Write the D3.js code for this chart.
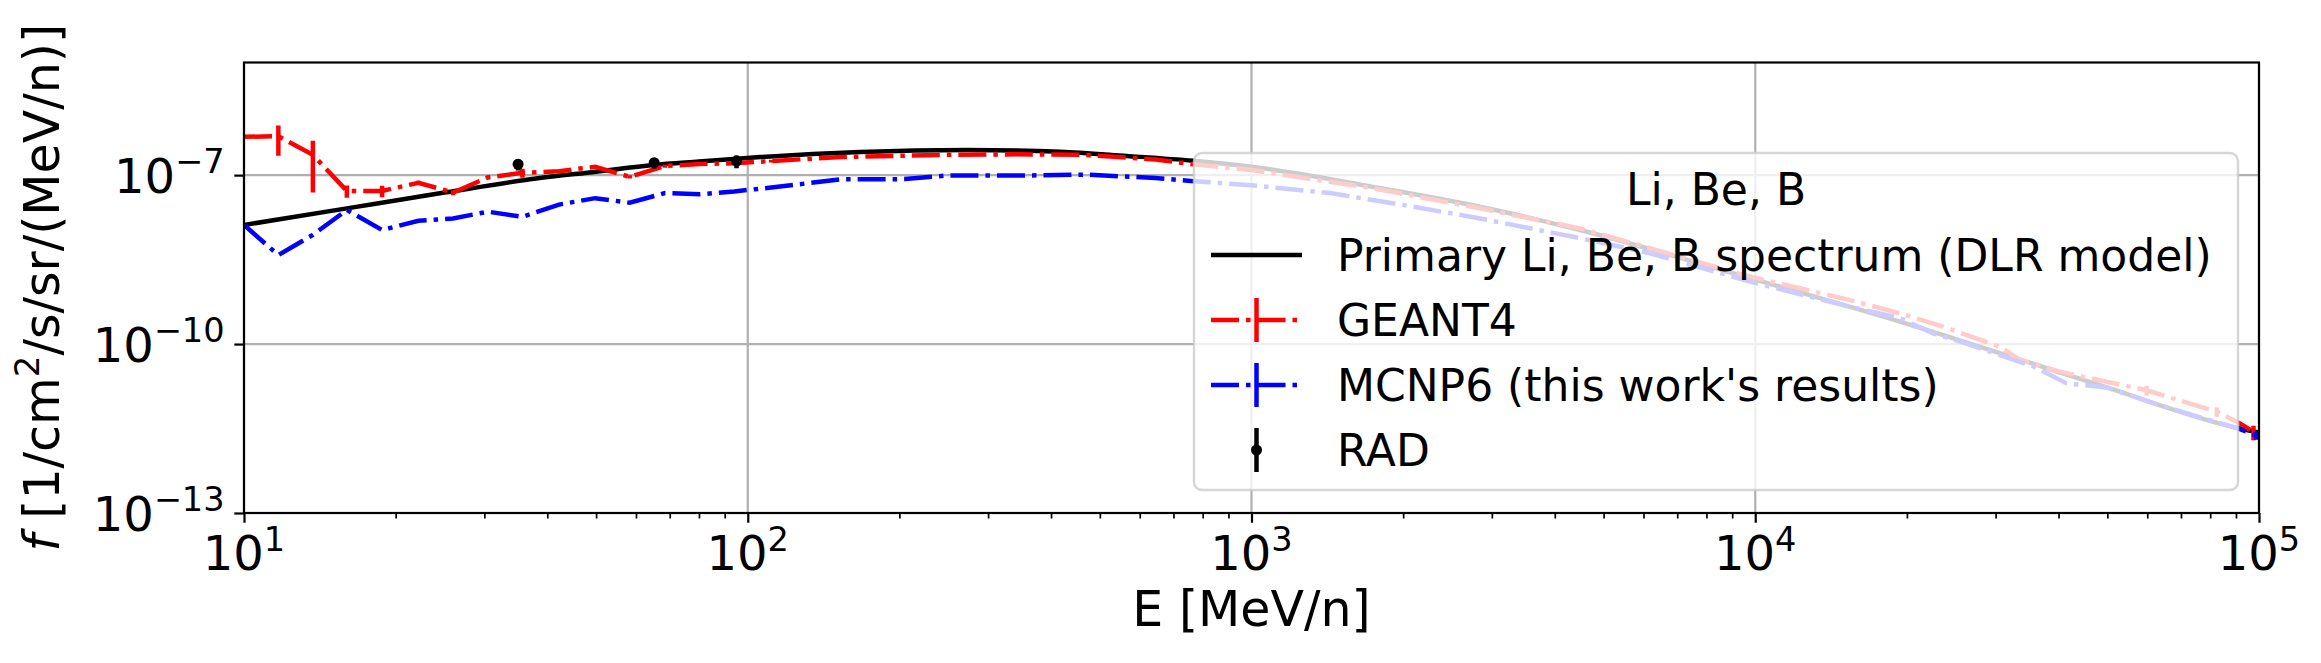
<!DOCTYPE html>
<html>
<head>
<meta charset="utf-8">
<script src="https://cdn.jsdelivr.net/npm/d3@7"></script>
<style>
  body { margin: 0; background: #fff; }
  svg { display: block; }
  text { font-family: "DejaVu Sans", sans-serif; fill: #000; }
</style>
</head>
<body>
<svg id="chart"></svg>
<script>
// primary spectrum (DLR model)
const dlrEnergy = [10, 16, 25, 38, 50, 65, 80, 106, 167, 272, 417, 565, 766, 1000, 1746, 2842, 4487, 9762, 19370, 35300, 48300, 91650, 100000];
const dlrFlux = [1.3e-8, 2.57e-8, 4.9e-8, 8.7e-8, 1.15e-7, 1.51e-7, 1.74e-7, 2.09e-7, 2.57e-7, 2.79e-7, 2.6e-7, 2.19e-7, 1.8e-7, 1.41e-7, 6.17e-8, 2.75e-8, 1.06e-8, 1.48e-9, 2.51e-10, 4.57e-11, 1.86e-11, 3.16e-12, 2.69e-12];

// GEANT4
const g4Energy = [10, 11.7, 13.7, 16.0, 18.8, 22.2, 26.0, 30.5, 35.7, 42.2, 49.8, 58.3, 68.5, 80.3, 94.0, 111.3, 153, 247, 340, 469, 645, 757, 1000, 1746, 2842, 4487, 9762, 15420, 19370, 23600, 30630, 33540, 40270, 49850, 59850, 70800, 82450, 91650, 97500];
const g4Flux = [4.79e-7, 4.9e-7, 2.29e-7, 5.25e-8, 5.25e-8, 7.33e-8, 4.9e-8, 9.12e-8, 1.1e-7, 1.17e-7, 1.41e-7, 9.33e-8, 1.45e-7, 1.58e-7, 1.62e-7, 1.78e-7, 2.09e-7, 2.29e-7, 2.34e-7, 2.29e-7, 1.9e-7, 1.58e-7, 1.23e-7, 5.82e-8, 2.57e-8, 1.135e-8, 1.58e-9, 6.03e-10, 3.5e-10, 2.04e-10, 8.9e-11, 5.25e-11, 3.24e-11, 2.14e-11, 1.51e-11, 9.5e-12, 6.3e-12, 3.9e-12, 2.75e-12];
const g4Err = [0, 2.7e-7, 1.8e-7, 1.3e-8, 1.2e-8, 6e-9, 5e-9, 7e-9, 2e-8, 8e-9, 1e-8, 6e-9, 1e-8, 1e-8, 1e-8, 1e-8, 0, 0, 0, 0, 0, 0, 0, 0, 0, 0, 0, 0, 0, 0, 0, 4e-12, 0, 0, 3e-12, 0, 1.2e-12, 0, 8e-13];

// MCNP6
const mcEnergy = [10, 11.7, 13.7, 16.0, 18.8, 22.2, 26.0, 30.5, 35.7, 42.2, 49.8, 58.3, 68.5, 80.3, 94.0, 111.3, 153, 205, 247, 340, 469, 645, 757, 1000, 1432, 2094, 2842, 4487, 6180, 9762, 15420, 19370, 22540, 26280, 35650, 41500, 49850, 61660, 91000, 98800];
const mcFlux = [1.3e-8, 3.8e-9, 8.7e-9, 2.4e-8, 1.06e-8, 1.55e-8, 1.7e-8, 2.24e-8, 1.82e-8, 3.0e-8, 3.9e-8, 3.24e-8, 4.8e-8, 4.57e-8, 5.13e-8, 6.03e-8, 8.4e-8, 8.5e-8, 9.8e-8, 9.8e-8, 1.02e-7, 8.9e-8, 7.9e-8, 6.6e-8, 4.8e-8, 2.75e-8, 1.7e-8, 7.6e-9, 4.1e-9, 1.29e-9, 4.6e-10, 2.9e-10, 1.55e-10, 1.02e-10, 4.0e-11, 2.0e-11, 1.7e-11, 8.9e-12, 3.16e-12, 2.4e-12];
const mcErr = [0, 0, 0, 0, 0, 0, 0, 0, 0, 0, 0, 0, 0, 0, 0, 0, 0, 0, 0, 0, 0, 0, 0, 0, 0, 0, 0, 0, 0, 0, 0, 0, 0, 0, 0, 0, 0, 0, 0, 4e-13];

// RAD measurements
const radEnergy = [35.0, 65.2, 95.0];
const radFlux = [1.56e-7, 1.66e-7, 1.78e-7];
const radErr = [3.5e-8, 3.5e-8, 4.5e-8];

const xMajor = [1e1, 1e2, 1e3, 1e4, 1e5];
const yMajor = [1e-13, 1e-10, 1e-7];
const legendTitle = 'Li, Be, B';
const legendLabels = ['Primary Li, Be, B spectrum (DLR model)', 'GEANT4', "MCNP6 (this work's results)", 'RAD'];

const width = 2321, height = 663;
const margin = { left: 244, right: 62, top: 62.5, bottom: 150 };
const lw = 4.5;
const dashDot = '28,7,4.5,7';

const svg = d3.select('#chart').attr('width', width).attr('height', height);

const x = d3.scaleLog().domain([10, 1e5]).range([margin.left, width - margin.right]);
const y = d3.scaleLog().domain([1e-13, 1e-5]).range([height - margin.bottom, margin.top]);

const zip = (es, fs, errs) => es.map((e, i) => ({ e, f: fs[i], err: errs ? errs[i] : 0 }));
const dlr = zip(dlrEnergy, dlrFlux);
const g4 = zip(g4Energy, g4Flux, g4Err);
const mc = zip(mcEnergy, mcFlux, mcErr);
const rad = zip(radEnergy, radFlux, radErr);

svg.append('defs').append('clipPath').attr('id', 'plot-clip')
  .append('rect')
  .attr('x', margin.left).attr('y', margin.top)
  .attr('width', width - margin.left - margin.right)
  .attr('height', height - margin.top - margin.bottom);

// grid
const grid = svg.append('g').attr('stroke', '#b0b0b0').attr('stroke-width', 2.2);
grid.selectAll('.gx').data(xMajor).enter().append('line')
  .attr('x1', (d) => x(d)).attr('x2', (d) => x(d))
  .attr('y1', margin.top).attr('y2', height - margin.bottom);
grid.selectAll('.gy').data(yMajor).enter().append('line')
  .attr('y1', (d) => y(d)).attr('y2', (d) => y(d))
  .attr('x1', margin.left).attr('x2', width - margin.right);

const plot = svg.append('g').attr('clip-path', 'url(#plot-clip)');

const smooth = d3.line().x((d) => x(d.e)).y((d) => y(d.f)).curve(d3.curveMonotoneX);
const straight = d3.line().x((d) => x(d.e)).y((d) => y(d.f));

plot.append('path').datum(dlr)
  .attr('d', smooth)
  .attr('fill', 'none').attr('stroke', '#000').attr('stroke-width', lw);

function errorSeries(data, color) {
  plot.append('path').datum(data)
    .attr('d', straight)
    .attr('fill', 'none').attr('stroke', color).attr('stroke-width', lw)
    .attr('stroke-dasharray', dashDot);
  plot.append('g').selectAll('line').data(data.filter((d) => d.err > 0)).enter().append('line')
    .attr('x1', (d) => x(d.e)).attr('x2', (d) => x(d.e))
    .attr('y1', (d) => y(Math.max(d.f - d.err, 1e-14)))
    .attr('y2', (d) => y(d.f + d.err))
    .attr('stroke', color).attr('stroke-width', lw);
}
errorSeries(g4, '#ff0000');
errorSeries(mc, '#0000ff');

plot.append('g').selectAll('line').data(rad).enter().append('line')
  .attr('x1', (d) => x(d.e)).attr('x2', (d) => x(d.e))
  .attr('y1', (d) => y(d.f - d.err)).attr('y2', (d) => y(d.f + d.err))
  .attr('stroke', '#000').attr('stroke-width', lw);
plot.append('g').selectAll('circle').data(rad).enter().append('circle')
  .attr('cx', (d) => x(d.e)).attr('cy', (d) => y(d.f)).attr('r', 5.5)
  .attr('fill', '#000');

// axes
const xMinor = x.ticks().filter((t) => !xMajor.some((m) => Math.abs(m - t) / m < 1e-9));
const bottom = height - margin.bottom;
svg.append('g').attr('transform', `translate(0,${bottom})`)
  .call(d3.axisBottom(x).tickValues(xMajor).tickSize(9.7).tickFormat(''))
  .call((g) => g.select('.domain').remove())
  .call((g) => g.selectAll('line').attr('stroke', '#000').attr('stroke-width', 2.2));
svg.append('g').attr('transform', `translate(0,${bottom})`)
  .call(d3.axisBottom(x).tickValues(xMinor).tickSize(5.5).tickFormat(''))
  .call((g) => g.select('.domain').remove())
  .call((g) => g.selectAll('line').attr('stroke', '#000').attr('stroke-width', 1.7));
svg.append('g').attr('transform', `translate(${margin.left},0)`)
  .call(d3.axisLeft(y).tickValues(yMajor).tickSize(9.7).tickFormat(''))
  .call((g) => g.select('.domain').remove())
  .call((g) => g.selectAll('line').attr('stroke', '#000').attr('stroke-width', 2.2));

// spines
svg.append('rect')
  .attr('x', margin.left).attr('y', margin.top)
  .attr('width', width - margin.left - margin.right)
  .attr('height', height - margin.top - margin.bottom)
  .attr('fill', 'none').attr('stroke', '#000').attr('stroke-width', 2.2);

// tick labels 10^n
const tickFont = 48;
function powerLabel(sel, exp) {
  sel.append('tspan').text('10');
  sel.append('tspan').attr('dy', -19.5).style('font-size', `${tickFont * 0.7}px`)
    .text(String(exp).replace('-', '\u2212'));
}
xMajor.forEach((d) => {
  const t = svg.append('text').attr('x', x(d)).attr('y', 570)
    .attr('text-anchor', 'middle').style('font-size', `${tickFont}px`);
  powerLabel(t, Math.round(Math.log10(d)));
});
yMajor.forEach((d) => {
  const t = svg.append('text').attr('x', 224.6).attr('y', y(d) + 17.5)
    .attr('text-anchor', 'end').style('font-size', `${tickFont}px`);
  powerLabel(t, Math.round(Math.log10(d)));
});

// axis labels
svg.append('text')
  .attr('x', (margin.left + width - margin.right) / 2).attr('y', 626)
  .attr('text-anchor', 'middle').style('font-size', '49px')
  .text('E [MeV/n]');

const yl = svg.append('text')
  .attr('transform', `translate(59,${(margin.top + height - margin.bottom) / 2}) rotate(-90)`)
  .attr('text-anchor', 'middle').style('font-size', '49px');
yl.append('tspan').style('font-style', 'italic').text('f');
yl.append('tspan').text(' [1/cm');
yl.append('tspan').attr('dy', -20).style('font-size', '34px').text('2');
yl.append('tspan').attr('dy', 20).text('/s/sr/(MeV/n)]');

// legend
const lg = svg.append('g');
lg.append('rect')
  .attr('x', 1194).attr('y', 153).attr('width', 1044).attr('height', 337)
  .attr('rx', 8).attr('ry', 8)
  .attr('fill', '#fff').attr('fill-opacity', 0.8)
  .attr('stroke', '#cccccc').attr('stroke-opacity', 0.8).attr('stroke-width', 2.5);
lg.append('text').attr('x', 1716).attr('y', 205).attr('text-anchor', 'middle')
  .style('font-size', '44px').text(legendTitle);

const rowY = [255, 320, 385, 450];
const hx0 = 1211, hx1 = 1302, hxm = (hx0 + hx1) / 2;
legendLabels.forEach((label, i) => {
  lg.append('text').attr('x', 1337).attr('y', rowY[i] + 15.5)
    .style('font-size', '44px').text(label);
});
lg.append('line').attr('x1', hx0).attr('x2', hx1).attr('y1', rowY[0]).attr('y2', rowY[0])
  .attr('stroke', '#000').attr('stroke-width', lw);
[['#ff0000', rowY[1]], ['#0000ff', rowY[2]]].forEach(([c, yy]) => {
  lg.append('line').attr('x1', hx0).attr('x2', hx1).attr('y1', yy).attr('y2', yy)
    .attr('stroke', c).attr('stroke-width', lw).attr('stroke-dasharray', dashDot);
  lg.append('line').attr('x1', hxm).attr('x2', hxm).attr('y1', yy - 22).attr('y2', yy + 22)
    .attr('stroke', c).attr('stroke-width', lw);
});
lg.append('line').attr('x1', hxm).attr('x2', hxm).attr('y1', rowY[3] - 22).attr('y2', rowY[3] + 22)
  .attr('stroke', '#000').attr('stroke-width', lw);
lg.append('circle').attr('cx', hxm).attr('cy', rowY[3]).attr('r', 5.5).attr('fill', '#000');
</script>
</body>
</html>
